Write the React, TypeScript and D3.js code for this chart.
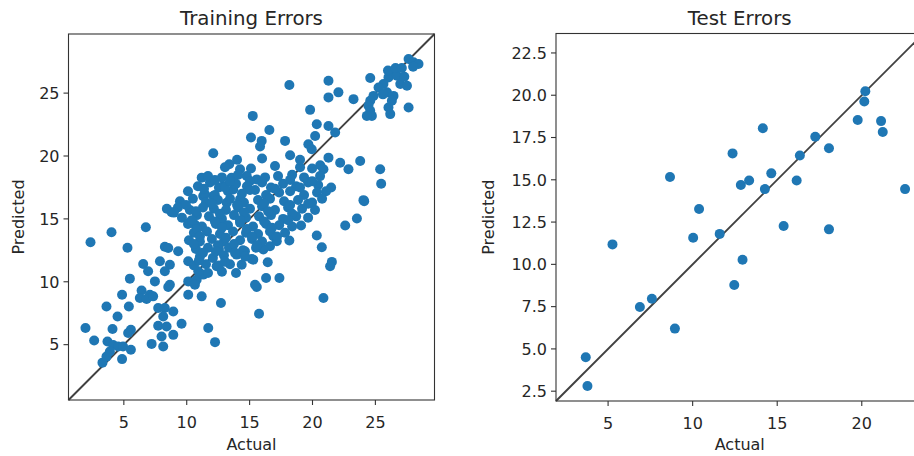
import React from "react";
import * as d3 from "d3";

// ---------- DATA ----------
const trainActual = [
  3.3, 3.62, 4.86, 3.7, 4.15, 4.55, 3.89, 4.94, 5.56, 5.56, 5.34, 4.1, 1.95, 2.64, 4.5, 3.62, 5.4, 4.86, 6.41, 7.07,
  6.27, 6.81, 7.33, 5.48, 7.47, 8.53, 6.54, 6.93, 7.87, 8.66, 8.26, 7.73, 8.26, 8.93, 8.13, 7.73, 8.4, 9.59, 8.93, 8.0,
  8.13, 7.21, 10.12, 11.19, 12.72, 11.71, 12.25, 10.79, 11.31, 2.35, 4.02, 5.29, 6.75, 8.26, 8.8, 10.25, 10.65, 9.32, 8.53, 10.12,
  10.92, 10.12, 8.66, 10.65,
  15.57, 15.75, 16.31, 17.37, 16.44, 20.87, 21.54, 21.4, 20.74, 20.34, 22.6, 23.53, 24.11, 19.09, 18.16, 16.89, 17.16, 16.62, 16.09, 15.17,
  14.37, 14.63, 13.97, 12.38, 15.43, 15.29,
  12.11, 13.38, 11.19, 14.24, 14.77, 15.57, 15.03, 13.57, 11.31, 12.11, 12.91, 13.7, 13.18, 14.24, 11.45, 15.25, 15.11, 16.57, 15.96, 15.83,
  17.82, 18.16, 19.81, 20.34, 21.27, 21.8, 20.21, 19.67, 19.94, 18.22, 21.27, 20.61, 22.2, 22.86, 23.79, 25.38, 25.46, 24.05, 21.27, 21.27,
  22.06, 23.26, 24.59, 20.87,
  27.64, 28.03, 28.43, 26.44, 26.04, 26.71, 26.98, 27.51, 25.64, 25.25, 25.92, 26.44, 26.31, 26.04, 26.18, 24.85, 24.59, 24.45, 24.59, 24.72,
  24.32, 27.64, 26.0, 26.6, 27.1, 27.3, 28.0, 25.6,
  10.89, 11.85, 12.56, 13.92, 14.79, 15.99, 16.7, 17.66, 18.7, 19.65, 20.45, 21.48,
  10.1, 12.24, 13.28, 14.39, 15.43, 16.31, 17.35, 18.22, 19.33, 20.36, 21.08,
  9.46, 10.49, 11.53, 12.48, 13.44, 14.55, 15.67, 16.62, 17.74, 18.85, 19.97, 20.76,
  8.42, 9.3, 10.25, 11.29, 12.16, 13.12, 14.08, 15.03, 15.99, 17.02, 18.06, 19.17, 20.2,
  9.62, 10.81, 11.77, 12.8, 13.76, 14.71, 15.75, 16.7, 17.66, 18.7, 19.65,
  10.1, 11.21, 12.32, 13.28, 14.24, 15.27, 16.31, 17.35, 18.38,
  10.57, 11.61, 12.64, 13.68, 14.71, 15.67, 16.62, 17.82,
  10.18, 11.05, 12.0, 12.96, 14.24, 15.19, 15.99,
  10.73, 11.69, 12.56, 13.36, 14.47, 15.51,
  11.05, 12.08, 12.96, 14.63,
  10.57, 11.53, 12.56, 13.44,
  11.69, 12.8, 13.92,
  11.69, 12.8, 14.08, 16.23, 17.26, 18.38, 19.33, 20.6,
  13.04, 15.11, 17.02, 19.01, 19.97,
  14.0, 15.99, 19.01,
  11.37, 13.04, 15.03, 17.02, 19.01,
  9.94, 12.0, 14.0, 16.15, 18.22, 19.65,
  8.98, 10.73, 12.64, 14.55, 16.47, 18.38,
  10.41, 12.24, 14.24, 16.15, 18.06,
  10.81, 12.8, 14.79, 16.78,
  11.05, 13.12, 15.19, 17.18,
  10.57, 12.48, 13.76, 15.59,
  11.29, 12.32, 13.84,
  10.97, 13.04,
  12.24, 13.44, 18.22, 19.97,
];
const trainPredicted = [
  3.57, 4.05, 3.85, 5.25, 4.98, 4.85, 4.45, 4.85, 4.59, 6.18, 5.92, 6.24, 6.32, 5.33, 7.24, 8.04, 8.04, 8.97, 9.31, 8.97,
  8.71, 8.63, 8.84, 10.25, 10.03, 9.59, 11.42, 10.83, 11.63, 11.36, 10.83, 7.91, 7.91, 7.64, 7.24, 6.5, 6.44, 6.66, 5.78, 5.65,
  4.85, 5.06, 8.97, 8.84, 8.31, 6.32, 5.2, 10.17, 10.57, 13.14, 13.94, 12.7, 14.34, 12.78, 15.53, 14.74, 14.55, 12.42, 12.69, 11.63,
  10.83, 10.03, 9.77, 9.77,
  9.59, 7.46, 10.3, 10.3, 11.55, 8.71, 11.58, 11.23, 12.74, 13.68, 14.47, 15.03, 16.41, 14.47, 13.28, 13.62, 13.22, 12.82, 12.56, 11.82,
  11.36, 12.42, 12.16, 11.23, 9.77, 11.76,
  20.22, 19.34, 18.28, 18.94, 18.41, 18.14, 18.01, 18.28, 16.81, 16.81, 17.61, 17.34, 16.28, 16.55, 16.95, 23.19, 21.47, 22.07, 21.2, 20.75,
  21.2, 25.64, 23.67, 22.53, 22.39, 21.87, 21.59, 20.93, 20.53, 20.06, 19.87, 19.26, 19.47, 18.94, 19.6, 18.94, 17.8, 16.49, 25.98, 24.66,
  25.06, 24.52, 26.2, 18.94,
  27.71, 27.45, 27.31, 26.65, 26.25, 26.38, 25.72, 25.58, 25.72, 25.45, 25.06, 24.78, 24.39, 23.86, 23.33, 24.78, 24.39, 23.99, 23.59, 23.19,
  23.19, 23.86, 26.8, 27.0, 27.0, 26.3, 27.1, 24.9,
  17.6, 17.9, 17.5, 17.8, 17.6, 17.9, 17.5, 17.8, 17.6, 17.9, 17.7, 17.5,
  17.2, 16.9, 17.2, 17.0, 17.3, 16.9, 17.1, 17.2, 16.9, 17.1, 17.2,
  16.4, 16.6, 16.3, 16.5, 16.6, 16.3, 16.5, 16.6, 16.4, 16.5, 16.3, 16.6,
  15.8, 15.9, 15.7, 15.9, 15.8, 15.7, 15.9, 15.8, 16.0, 15.7, 15.9, 15.8, 15.7,
  15.1, 15.3, 15.2, 15.0, 15.3, 15.1, 15.2, 15.3, 15.0, 15.2, 15.1,
  14.6, 14.4, 14.6, 14.5, 14.7, 14.4, 14.6, 14.5, 14.4,
  13.9, 14.0, 13.8, 14.0, 13.9, 13.8, 14.0, 13.9,
  13.3, 13.2, 13.4, 13.2, 13.3, 13.4, 13.2,
  12.6, 12.7, 12.6, 12.7, 12.5, 12.7,
  12.0, 11.9, 12.1, 12.0,
  11.3, 11.4, 11.3, 11.4,
  10.7, 10.8, 10.7,
  18.4, 18.3, 18.5, 18.3, 18.4, 18.5, 18.3, 18.4,
  19.1, 19.0, 19.2, 19.1, 19.0,
  19.7, 19.8, 19.7,
  17.4, 17.5, 17.3, 17.4, 17.5,
  16.1, 16.2, 16.1, 16.2, 16.1, 16.2,
  15.5, 15.6, 15.4, 15.5, 15.6, 15.4,
  14.9, 14.8, 14.9, 14.8, 14.9,
  14.2, 14.3, 14.2, 14.3,
  13.6, 13.5, 13.6, 13.6,
  13.0, 12.9, 13.0, 12.9,
  12.3, 12.4, 12.3,
  11.7, 11.6,
  18.1, 18.0, 18.1, 18.0,
];

const testActual = [
  3.68, 3.78, 5.26, 6.88, 7.59, 8.66, 8.95, 10.03, 10.38, 11.6, 12.36, 12.46, 12.85, 12.95, 13.34,
  14.15, 14.27, 14.65, 15.38, 16.15, 16.34, 17.25, 18.06, 18.06, 19.76, 20.21, 20.15, 21.14, 21.24, 22.56,
];
const testPredicted = [
  4.51, 2.81, 11.18, 7.48, 7.97, 15.16, 6.2, 11.57, 13.27, 11.8, 16.56, 8.78, 14.69, 10.27, 14.96,
  18.05, 14.45, 15.38, 12.27, 14.96, 16.44, 17.54, 16.87, 12.07, 18.54, 20.24, 19.63, 18.47, 17.83, 14.45,
];

const trainTicks = [5, 10, 15, 20, 25];
const testXTicks = [5, 10, 15, 20];
const testYTicks = [2.5, 5, 7.5, 10, 12.5, 15, 17.5, 20, 22.5];

const trainDomain = [0.6, 29.7];
const testDomain = [1.92, 23.65];

// ---------- STYLE ----------
const FONT = "DejaVu Sans, sans-serif";
const DOT = "#1f77b4";
const AXIS = "#333333";
const TEXT = "#262626";

type PanelProps = {
  x0: number; y0: number; size: number;
  domain: number[];
  xs: number[]; ys: number[];
  xTicks: number[]; yTicks: number[];
  yFmt: (v: number) => string;
  title: string;
  ylabelX: number;
};

function Panel(p: PanelProps) {
  const sx = d3.scaleLinear().domain(p.domain).range([p.x0, p.x0 + p.size]);
  const sy = d3.scaleLinear().domain(p.domain).range([p.y0 + p.size, p.y0]);
  const line = d3.line<number>().x((v) => sx(v)).y((v) => sy(v));
  const bottom = p.y0 + p.size;
  const cx = p.x0 + p.size / 2;
  return (
    <g>
      <path d={line(p.domain) || ""} stroke="#404040" strokeWidth={1.9} fill="none" />
      {p.xs.map((v, i) => (
        <circle key={i} cx={sx(v)} cy={sy(p.ys[i])} r={5.0} fill={DOT} />
      ))}
      <rect x={p.x0} y={p.y0} width={p.size} height={p.size} fill="none" stroke={AXIS} strokeWidth={1.1} />
      {p.xTicks.map((t) => (
        <g key={"x" + t}>
          <line x1={sx(t)} x2={sx(t)} y1={bottom} y2={bottom + 5} stroke={AXIS} strokeWidth={1.1} />
          <text x={sx(t)} y={bottom + 27.5} textAnchor="middle" fontSize={16} fill={TEXT} fontFamily={FONT}>{t}</text>
        </g>
      ))}
      {p.yTicks.map((t) => (
        <g key={"y" + t}>
          <line x1={p.x0 - 5} x2={p.x0} y1={sy(t)} y2={sy(t)} stroke={AXIS} strokeWidth={1.1} />
          <text x={p.x0 - 9} y={sy(t) + 5.8} textAnchor="end" fontSize={16} fill={TEXT} fontFamily={FONT}>{p.yFmt(t)}</text>
        </g>
      ))}
      <text x={cx} y={25} textAnchor="middle" fontSize={19.8} fill={TEXT} fontFamily={FONT}>{p.title}</text>
      <text x={cx} y={450} textAnchor="middle" fontSize={16} fill={TEXT} fontFamily={FONT}>Actual</text>
      <text transform={`translate(${p.ylabelX},${p.y0 + p.size / 2}) rotate(-90)`} textAnchor="middle" fontSize={16} fill={TEXT} fontFamily={FONT}>Predicted</text>
    </g>
  );
}

export default function App() {
  return (
    <svg width={914} height={456} style={{ position: "absolute", left: 0, top: 0, background: "#fff" }}>
      <rect x={0} y={0} width={914} height={456} fill="#fff" />
      <Panel x0={68.5} y0={34} size={366} domain={trainDomain} xs={trainActual} ys={trainPredicted}
        xTicks={trainTicks} yTicks={trainTicks} yFmt={(v) => String(v)} title="Training Errors" ylabelX={24} />
      <Panel x0={556} y0={33.5} size={367.5} domain={testDomain} xs={testActual} ys={testPredicted}
        xTicks={testXTicks} yTicks={testYTicks} yFmt={(v) => v.toFixed(1)} title="Test Errors" ylabelX={494} />
    </svg>
  );
}
